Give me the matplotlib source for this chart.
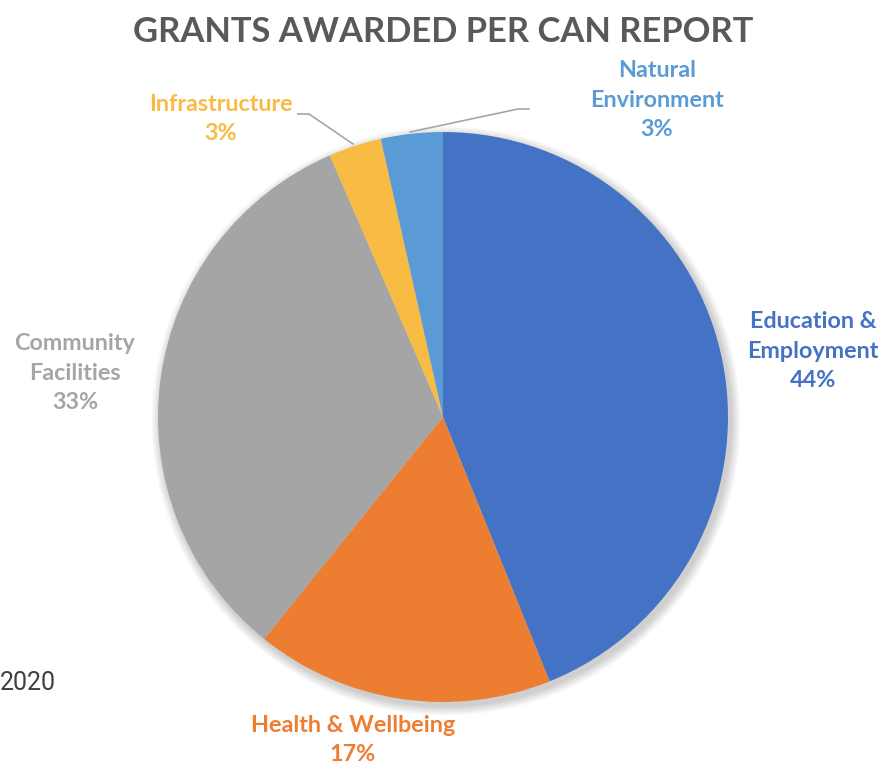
import matplotlib.pyplot as plt
from matplotlib.patches import Circle

# data
categories = ['Education &\nEmployment', 'Health & Wellbeing', 'Community\nFacilities',
              'Infrastructure', 'Natural\nEnvironment']
shares = [43.9, 16.9, 32.7, 3.0, 3.5]
pct_labels = ['44%', '17%', '33%', '3%', '3%']
colors = ['#4472C4', '#ED7D31', '#A5A5A5', '#F8BC44', '#5B9BD5']

W, H = 887, 765
fig = plt.figure(figsize=(W / 100, H / 100), dpi=100)
ax = fig.add_axes([0, 0, 1, 1])

def py(y):
    # image y (top down) -> data y
    return H - y

cx, cy, r = 443, py(417), 285

# soft shadow behind the pie
for i in range(8):
    ax.add_patch(Circle((cx + 3, cy - 4), r + 1 + i * 1.2, color='black',
                        alpha=0.025, lw=0, zorder=0))

ax.pie(shares, colors=colors, startangle=90, counterclock=False,
       center=(cx, cy), radius=r, frame=True,
       wedgeprops=dict(linewidth=0, zorder=1))

ax.set_xlim(0, W)
ax.set_ylim(0, H)
ax.set_aspect('equal')
ax.axis('off')

font = 'Lato'
fs = 16.8

ax.text(443, py(32), 'GRANTS AWARDED PER CAN REPORT', ha='center', va='center',
        fontsize=24.8, fontweight='bold', color='#595959', family=font)

label_pos = [(813, 351), (353, 740), (75, 373), (221, 119), (657, 100)]
for name, pct, col, (lx, ly) in zip(categories, pct_labels, colors, label_pos):
    ax.text(lx, py(ly), name + '\n' + pct, ha='center', va='center', fontsize=fs,
            fontweight='bold', color=col, family=font, linespacing=1.5)

# leader lines
ax.plot([298, 309, 353], [py(114), py(114), py(144)], color='#A6A6A6', lw=1.2)
ax.plot([529, 518, 410], [py(109), py(109), py(132)], color='#A6A6A6', lw=1.2)

ax.text(0, py(683), '2020', ha='left', va='center', fontsize=18,
        color='#404040', family='Roboto')

fig.savefig('out.png', dpi=100)
